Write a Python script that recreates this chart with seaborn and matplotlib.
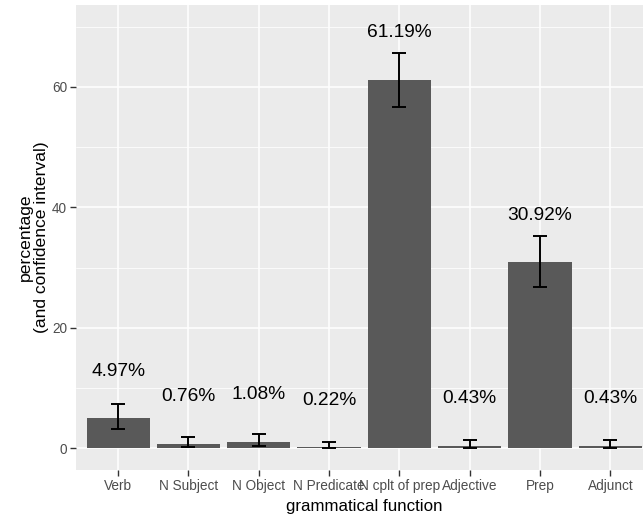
import matplotlib
matplotlib.use("Agg")
import matplotlib.pyplot as plt
import seaborn as sns
import pandas as pd
import numpy as np

categories = ["Verb", "N Subject", "N Object", "N Predicate", "N cplt of prep",
              "Adjective", "Prep", "Adjunct"]
percent = [4.97, 0.76, 1.08, 0.22, 61.19, 0.43, 30.92, 0.43]
ci_low = [3.15, 0.2, 0.33, 0.0, 56.6, 0.0, 26.8, 0.0]
ci_high = [7.3, 1.87, 2.43, 1.05, 65.6, 1.38, 35.2, 1.38]
labels = ["4.97%", "0.76%", "1.08%", "0.22%", "61.19%", "0.43%", "30.92%", "0.43%"]

df = pd.DataFrame({"function": categories, "pct": percent,
                   "lo": ci_low, "hi": ci_high, "label": labels})

sns.set_theme(style="darkgrid")
plt.rcParams["font.family"] = ["Liberation Sans", "DejaVu Sans"]

fig = plt.figure(figsize=(6.43, 5.16), dpi=100)
ax = fig.add_axes([76/643, 1-469.5/516, (652.5-76)/643, (469.5-5)/516])
ax.set_facecolor("#EBEBEB")

sns.barplot(data=df, x="function", y="pct", color="#595959", saturation=1,
            width=0.9, errorbar=None, ax=ax, zorder=2, linewidth=0)

xs = np.arange(len(categories))
pct = np.array(percent)
ax.errorbar(xs, pct, yerr=[pct - np.array(ci_low), np.array(ci_high) - pct],
            fmt="none", ecolor="black", elinewidth=1.4, capsize=5.2,
            capthick=1.4, zorder=3)

for x, v, t in zip(xs, percent, labels):
    ax.text(x, v + 7.8, t, ha="center", va="center", fontsize=13.8,
            color="black", zorder=4)

ax.set_xlim(-0.6, len(categories) - 0.4)
ax.set_ylim(-3.5, 73.6)
ax.set_yticks([0, 20, 40, 60])
ax.set_yticks([10, 30, 50, 70], minor=True)
ax.grid(which="major", color="white", linewidth=1.1, zorder=0)
ax.grid(which="minor", axis="y", color="white", linewidth=0.55, zorder=0)
ax.set_axisbelow(True)
for s in ax.spines.values():
    s.set_visible(False)

ax.tick_params(axis="both", which="major", length=4, width=1.0, color="#333333",
               labelcolor="#4D4D4D", labelsize=9.8, pad=2.5, bottom=True, left=True)
ax.tick_params(axis="both", which="minor", length=0)

ax.set_xlabel("grammatical function", fontsize=12.2, color="black", labelpad=5)
ax.set_ylabel("percentage\n(and confidence interval)", fontsize=12.6,
              color="black", labelpad=2, multialignment="center", linespacing=1.1)

fig.savefig("out.png", dpi=100)
